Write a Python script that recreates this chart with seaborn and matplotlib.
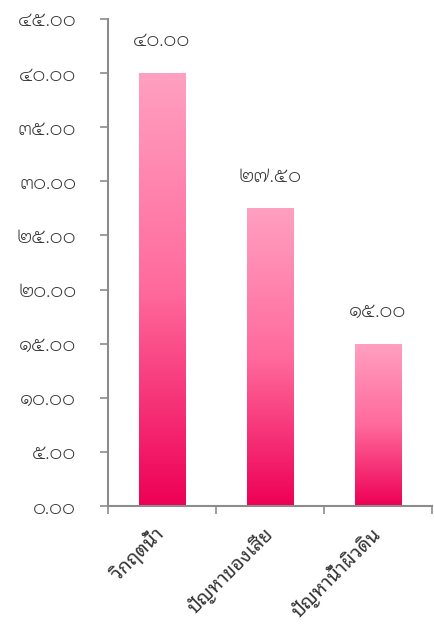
import matplotlib
matplotlib.use("Agg")
import numpy as np
import pandas as pd
import matplotlib.pyplot as plt
import seaborn as sns
from matplotlib.colors import LinearSegmentedColormap
from matplotlib.ticker import FixedLocator, FuncFormatter

categories = ["วิกฤตน้ำ", "ปัญหาของเสีย", "ปัญหาน้ำผิวดิน"]
values = [40.00, 27.50, 15.00]
y_ticks = [0, 5, 10, 15, 20, 25, 30, 35, 40, 45]

THAI_DIGITS = str.maketrans("0123456789", "๐๑๒๓๔๕๖๗๘๙")


def thai_num(v):
    return f"{v:.2f}".translate(THAI_DIGITS)


sns.set_theme(style="white")
plt.rcParams["font.family"] = ["Kodchasan", "Noto Sans Thai Looped", "DejaVu Sans"]
plt.rcParams["font.weight"] = "light"
label_family = ["Noto Sans Thai Looped", "Kodchasan", "DejaVu Sans"]

W, H = 434, 627
fig = plt.figure(figsize=(W / 100, H / 100), dpi=100)
ax = fig.add_axes([108 / W, (H - 506) / H, (432 - 108) / W, (506 - 19) / H])

df = pd.DataFrame({"cat": categories, "val": values})
sns.barplot(data=df, x="cat", y="val", ax=ax, width=0.43, color="#ff4f8a",
            edgecolor="none", errorbar=None)

ax.set_xlim(-0.5, len(categories) - 0.5)
ax.set_ylim(0, 45)

text_c = "#333333"

# vertical gradient inside each bar: pale pink at the top, deep magenta at the base
cmap = LinearSegmentedColormap.from_list("pinkgrad", ["#ee0055", "#ff6a9c", "#ffa0c0"])
grad = np.linspace(0, 1, 256).reshape(-1, 1)
for patch in ax.patches:
    x0, y0 = patch.get_x(), patch.get_y()
    w, h = patch.get_width(), patch.get_height()
    img = ax.imshow(grad, cmap=cmap, aspect="auto", origin="lower",
                    extent=[x0, x0 + w, y0, y0 + h], zorder=patch.get_zorder() + 0.1,
                    interpolation="bilinear")
    img.set_clip_path(patch)
    ax.text(x0 + w / 2, y0 + h + 2.9, thai_num(y0 + h), ha="center", va="center",
            fontsize=14, color=text_c)

ax.set_xlim(-0.5, len(categories) - 0.5)
ax.set_ylim(0, 45)

spine_c = "#8c8c8c"
for side in ["top", "right"]:
    ax.spines[side].set_visible(False)
for side in ["left", "bottom"]:
    ax.spines[side].set_color(spine_c)
    ax.spines[side].set_linewidth(1.5)

ax.yaxis.set_major_locator(FixedLocator(y_ticks))
ax.yaxis.set_major_formatter(FuncFormatter(lambda v, p: thai_num(v)))
ax.tick_params(axis="y", which="major", direction="out", length=5.8, width=1.2,
               color=spine_c, labelsize=14, labelcolor=text_c, pad=17, left=True)

# category boundary ticks on the x axis, labels at the category centres
ax.xaxis.set_major_locator(FixedLocator([-0.5, 0.5, 1.5, 2.5]))
ax.xaxis.set_major_formatter(FuncFormatter(lambda v, p: ""))
ax.set_xticks(range(len(categories)), labels=categories, minor=True)
ax.tick_params(axis="x", which="major", direction="out", length=5.8, width=1.2,
               color=spine_c, bottom=True)
ax.tick_params(axis="x", which="minor", length=0, labelsize=14, labelcolor=text_c, pad=18)
for lab in ax.get_xticklabels(minor=True):
    lab.set_family(label_family)
    lab.set_rotation(45)
    lab.set_rotation_mode("anchor")
    lab.set_ha("right")
    lab.set_va("center")

ax.set_xlabel("")
ax.set_ylabel("")
ax.grid(False)

fig.savefig("out.png", dpi=100)
